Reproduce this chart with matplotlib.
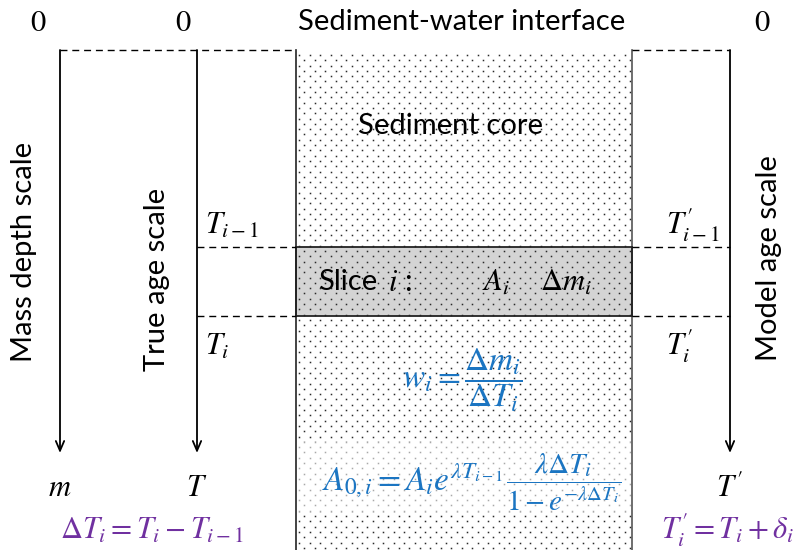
import numpy as np
import matplotlib
matplotlib.use("Agg")
import matplotlib.pyplot as plt
from matplotlib.patches import Rectangle

plt.rcParams['font.family'] = ['Lato', 'DejaVu Sans']
plt.rcParams['mathtext.fontset'] = 'stix'

# labels for the three depth/age scales
scale_names = ['Mass depth scale', 'True age scale', 'Model age scale']
scale_ends = [r'$m$', r'$T$', r'$T^{\prime}$']
upper_labels = [r'$T_{i-1}$', r'$T^{\prime}_{i-1}$']
lower_labels = [r'$T_i$', r'$T^{\prime}_i$']

BLUE = '#1b75c2'
PURPLE = '#7030a0'

fig = plt.figure(figsize=(7.99, 5.50), dpi=100)
ax = fig.add_axes([0, 0, 1, 1])
ax.set_xlim(0, 799)
ax.set_ylim(550, 0)
ax.axis('off')

core_x0, core_x1 = 296, 632
top_y, slice_top, slice_bot = 50, 247, 316

# dotted sediment core
ax.add_patch(Rectangle((core_x0, slice_top), core_x1 - core_x0, slice_bot - slice_top,
                       facecolor='#d4d4d4', edgecolor='none', zorder=1))
xs = np.arange(core_x0 + 3, core_x1 - 3, 10.5)
ys = np.arange(top_y + 5, 550, 5.3)
dx, dy = [], []
for k, y in enumerate(ys):
    off = 5.25 if k % 2 else 0.0
    row = xs + off
    row = row[row < core_x1 - 2]
    dx.extend(row)
    dy.extend([y] * len(row))
ax.plot(dx, dy, ls='none', marker='s', ms=1.1, mew=0, color='#2a2a2a', zorder=2)

# lighter band behind the activity formula
ax.add_patch(Rectangle((core_x0, 442), core_x1 - core_x0, 70,
                       facecolor='white', alpha=0.6, edgecolor='none', zorder=3))

# core walls and slice box
ax.plot([core_x0, core_x0], [top_y, 550], color='#222222', lw=1.2, zorder=4)
ax.plot([core_x1, core_x1], [top_y, 550], color='#555555', lw=1.2, zorder=4)
ax.add_patch(Rectangle((core_x0, slice_top), core_x1 - core_x0, slice_bot - slice_top,
                       facecolor='none', edgecolor='#222222', lw=1.3, zorder=4))

# dashed guide lines
dash = dict(color='black', lw=1.0, dashes=(5, 3.5), zorder=4)
ax.plot([60, core_x0], [top_y, top_y], **dash)
ax.plot([core_x1, 730], [top_y, top_y], **dash)
for y in (slice_top, slice_bot):
    ax.plot([197, core_x0], [y, y], **dash)
    ax.plot([core_x1, 730], [y, y], **dash)

# scale arrows
for x in (60, 197, 730):
    ax.annotate('', xy=(x, 453), xytext=(x, top_y),
                arrowprops=dict(arrowstyle='->,head_width=0.3,head_length=0.7',
                                lw=1.3, color='black', shrinkA=0, shrinkB=0))

for x in (38, 183, 762):
    ax.text(x, 22, r'$0$', fontsize=22, ha='center', va='center')
ax.text(462, 22, 'Sediment-water interface', fontsize=21, ha='center', va='center')
ax.text(450, 126, 'Sediment core', fontsize=21, ha='center', va='center', zorder=5)

for x, y, s in zip((24, 157, 769), (252, 279, 258), scale_names):
    ax.text(x, y, s, fontsize=21, rotation=90, ha='center', va='center')

for x, s in zip((60, 197, 730), scale_ends):
    ax.text(x, 487, s, fontsize=22, ha='center', va='center')

ax.text(205, 225, upper_labels[0], fontsize=22, ha='left', va='center')
ax.text(666, 225, upper_labels[1], fontsize=22, ha='left', va='center')
ax.text(205, 346, lower_labels[0], fontsize=22, ha='left', va='center')
ax.text(666, 346, lower_labels[1], fontsize=22, ha='left', va='center')

ax.text(318, 282, 'Slice', fontsize=21, ha='left', va='center', zorder=5)
ax.text(388, 282, r'$i$ :', fontsize=22, ha='left', va='center', zorder=5)
ax.text(496, 282, r'$A_i$', fontsize=22, ha='center', va='center', zorder=5)
ax.text(566, 282, r'$\Delta m_i$', fontsize=22, ha='center', va='center', zorder=5)

ax.text(462, 380, r'$w_i = \dfrac{\Delta m_i}{\Delta T_i}$', fontsize=24,
        color=BLUE, ha='center', va='center', zorder=5)

# initial activity: main term and the decay fraction set a bit smaller
ax.text(503, 490, r'$A_{0,i} = A_i e^{\lambda T_{i-1}}$', fontsize=24,
        color=BLUE, ha='right', va='baseline', zorder=5)
ax.text(506, 482, r'$\dfrac{\lambda \Delta T_i}{1-e^{-\lambda \Delta T_i}}$',
        fontsize=21, color=BLUE, ha='left', va='center', zorder=5)

ax.text(152, 530, r'$\Delta T_i = T_i - T_{i-1}$', fontsize=22, color=PURPLE,
        ha='center', va='center')
ax.text(728, 530, r'$T^{\prime}_i = T_i + \delta_i$', fontsize=22, color=PURPLE,
        ha='center', va='center')

fig.savefig('out.png', dpi=100)
